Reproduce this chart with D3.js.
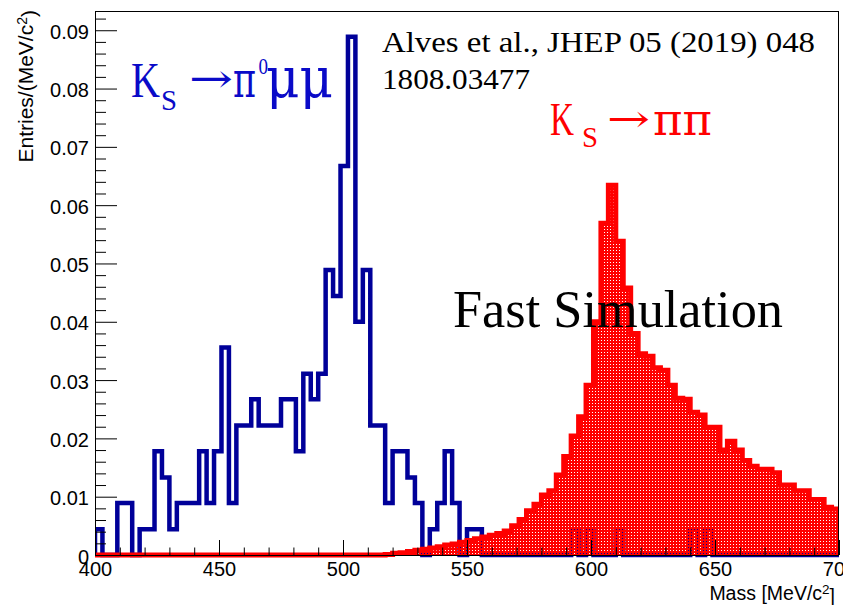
<!DOCTYPE html>
<html><head><meta charset="utf-8">
<script src="https://cdn.jsdelivr.net/npm/d3@7"></script>
<style>body{margin:0;background:#fff;} svg{display:block}</style>
</head><body>
<svg id="c" width="843" height="605"></svg>
<script>
// ---- data ----
const binLowEdges = d3.range(400, 700, 3);       // 100 bins of 3 MeV/c^2
const xMax = 700;
const blueValues = [
0.0044,0,0,0.0089,0.0089,0,0.0044,0.0044,0.0178,0.0133,
0.0044,0.0089,0.0089,0.0089,0.0178,0.0089,0.0178,0.0356,0.0089,0.0222,
0.0222,0.0267,0.0222,0.0222,0.0222,0.0267,0.0267,0.0178,0.0311,0.0267,
0.0311,0.0489,0.0444,0.0667,0.0889,0.0400,0.0489,0.0222,0.0222,0.0089,
0.0178,0.0178,0.0133,0.0089,0,0.0044,0.0089,0.0178,0.0089,0,
0.0044,0.0044,0,0,0,0,0,0,0,0,
0,0,0,0,0.0044,0,0.0044,0,0,0,
0.0044,0,0,0,0,0,0,0,0,0,
0.0044,0,0.0044,0,0,0,0,0,0,0,
0,0,0,0,0,0,0,0,0,0];
const redValues = [
0,0,0,0,0,0,0,0,0,0,
0,0,0,0,0,0,0,0,0,0,
0,0,0,0,0,0,0,0,0,0,
0,0,0,0,0,0,0,0,0,0.0001,
0.0003,0.0004,0.0006,0.0008,0.0010,0.0012,0.0014,0.0017,0.0019,0.0022,
0.0025,0.0028,0.0031,0.0034,0.0037,0.0041,0.0050,0.0061,0.0076,0.0087,
0.0103,0.0110,0.0137,0.0169,0.0204,0.0237,0.0291,0.0400,0.0569,0.0634,
0.0538,0.0458,0.0380,0.0345,0.0341,0.0321,0.0317,0.0291,0.0269,0.0267,
0.0245,0.0240,0.0219,0.0219,0.0180,0.0195,0.0180,0.0162,0.0152,0.0147,
0.0147,0.0141,0.0120,0.0120,0.0110,0.0110,0.0095,0.0095,0.0082,0.0079];
const xTicks = [400,450,500,550,600,650,700];
const xTickLabels = ["400","450","500","550","600","650","700"];
const yTicks = [0,0.01,0.02,0.03,0.04,0.05,0.06,0.07,0.08,0.09];
const yTickLabels = ["0","0.01","0.02","0.03","0.04","0.05","0.06","0.07","0.08","0.09"];
const yMax = 0.0933;

// ---- layout ----
const svg = d3.select("#c");
const L = 95, R = 839, T = 11, B = 555;
const x = d3.scaleLinear().domain([400, xMax]).range([L, R]);
const y = d3.scaleLinear().domain([0, yMax]).range([B, T]);

const defs = svg.append("defs");
defs.append("clipPath").attr("id","frame").append("rect")
  .attr("x",L).attr("y",T-3).attr("width",R-L).attr("height",B-T+6);
const pat = defs.append("pattern").attr("id","dots").attr("patternUnits","userSpaceOnUse")
  .attr("x",0).attr("y",0).attr("width",3).attr("height",3);
pat.append("path").attr("d","M0,0h3v3h-3zM1,1h1v1h-1z").attr("fill","#ff0000").attr("fill-rule","evenodd");

const pts = (vals) => binLowEdges.map((e,i)=>[e, vals[i]]).concat([[xMax, vals[vals.length-1]]]);

const plot = svg.append("g").attr("clip-path","url(#frame)");

// blue histogram outline
const bluePts = [[400,0]].concat(pts(blueValues)).concat([[xMax,0]]);
plot.append("path")
  .attr("d", d3.line().x(d=>x(d[0])).y(d=>y(d[1])).curve(d3.curveStepAfter)(bluePts))
  .attr("fill","none").attr("stroke","#000099").attr("stroke-width",4.5)
  .attr("stroke-linejoin","miter");

// red histogram: patterned fill + outline
plot.append("path")
  .attr("d", d3.area().x(d=>x(d[0])).y0(y(0)).y1(d=>y(d[1])).curve(d3.curveStepAfter)(pts(redValues)))
  .attr("fill","url(#dots)");
const redPts = [[400,0]].concat(pts(redValues)).concat([[xMax,0]]);
plot.append("path")
  .attr("d", d3.line().x(d=>x(d[0])).y(d=>y(d[1])).curve(d3.curveStepAfter)(redPts))
  .attr("fill","none").attr("stroke","#ff0000").attr("stroke-width",5)
  .attr("stroke-linejoin","miter");

// ---- axes ----
const fontSans = "'Liberation Sans', Arial, Helvetica, sans-serif";
const yMinor = d3.range(0, yMax, 0.002).filter(v => Math.abs(v*100 - Math.round(v*100)) > 1e-6);
const xMinor = d3.range(400, 701, 10).filter(v => v % 50 !== 0);

const yAx = svg.append("g").attr("transform",`translate(${L},0)`);
yAx.call(d3.axisLeft(y).tickValues(yTicks).tickSize(-22).tickPadding(6)
  .tickFormat((d,i)=>yTickLabels[i]));
yAx.append("g").call(d3.axisLeft(y).tickValues(yMinor).tickSize(-11).tickFormat(""));
const xAx = svg.append("g").attr("transform",`translate(0,${B})`);
xAx.call(d3.axisBottom(x).tickValues(xTicks).tickSize(-15).tickPadding(7)
  .tickFormat((d,i)=>xTickLabels[i]));
xAx.append("g").call(d3.axisBottom(x).tickValues(xMinor).tickSize(-7.5).tickFormat(""));
svg.selectAll(".domain").remove();
svg.selectAll(".tick line").attr("stroke","#000").attr("stroke-width",1);
svg.selectAll(".tick text").attr("font-family",fontSans).attr("font-size",20).attr("fill","#000");
yAx.selectAll(".tick text").attr("dy","0.40em");

// frame
svg.append("rect").attr("x",L+0.5).attr("y",T+0.5).attr("width",R-L-1).attr("height",B-T)
  .attr("fill","none").attr("stroke","#000").attr("stroke-width",1);

// axis titles
const xt = svg.append("text").attr("x",835).attr("y",600).attr("text-anchor","end")
  .attr("font-family",fontSans).attr("font-size",19.5);
xt.append("tspan").text("Mass [MeV/c");
xt.append("tspan").attr("dy","-0.45em").attr("font-size",13.5).text("2");
xt.append("tspan").attr("dy","0.45em").text("]");
const yt = svg.append("text").attr("transform","translate(33,10) rotate(-90)").attr("text-anchor","end")
  .attr("font-family",fontSans).attr("font-size",21);
yt.append("tspan").text("Entries/(MeV/c");
yt.append("tspan").attr("dy","-0.45em").attr("font-size",14).text("2");
yt.append("tspan").attr("dy","0.45em").text(")");

// ---- annotations ----
const serif = "'Liberation Serif', 'Times New Roman', serif";
const greek = "'DejaVu Serif', serif";
function txt(s, xx, yy, fs, len, col, fam){
  const t = svg.append("text").attr("x",xx).attr("y",yy).attr("font-family",fam||serif)
    .attr("font-size",fs).attr("fill",col||"#000").text(s);
  if (len) t.attr("textLength",len).attr("lengthAdjust","spacingAndGlyphs");
  return t;
}
txt("Alves et al., JHEP 05 (2019) 048", 382, 52, 30, 433);
txt("1808.03477", 382, 88.5, 30, 148);
txt("Fast Simulation", 453, 327, 53, 330);

const blueTxt = "#0a0ac8";
txt("K", 131, 97, 50, 29, blueTxt);
txt("S", 161, 110, 30, 16, blueTxt);
txt("\u2192", 189, 92, 40, 44, blueTxt, greek);
txt("\u03c0", 233, 97, 50, 23, blueTxt, greek);
txt("0", 258.5, 74, 23, 9.5, blueTxt);
txt("\u03bc\u03bc", 266, 97, 56, 67, blueTxt, greek);

const redTxt = "#ff0000";
txt("K", 550, 135, 46, 24, redTxt);
txt("S", 582, 146.5, 29, 16, redTxt);
txt("\u2192", 607, 132, 38, 43, redTxt, greek);
txt("\u03c0\u03c0", 653, 135, 44, 59, redTxt, greek);
</script>
</body></html>
